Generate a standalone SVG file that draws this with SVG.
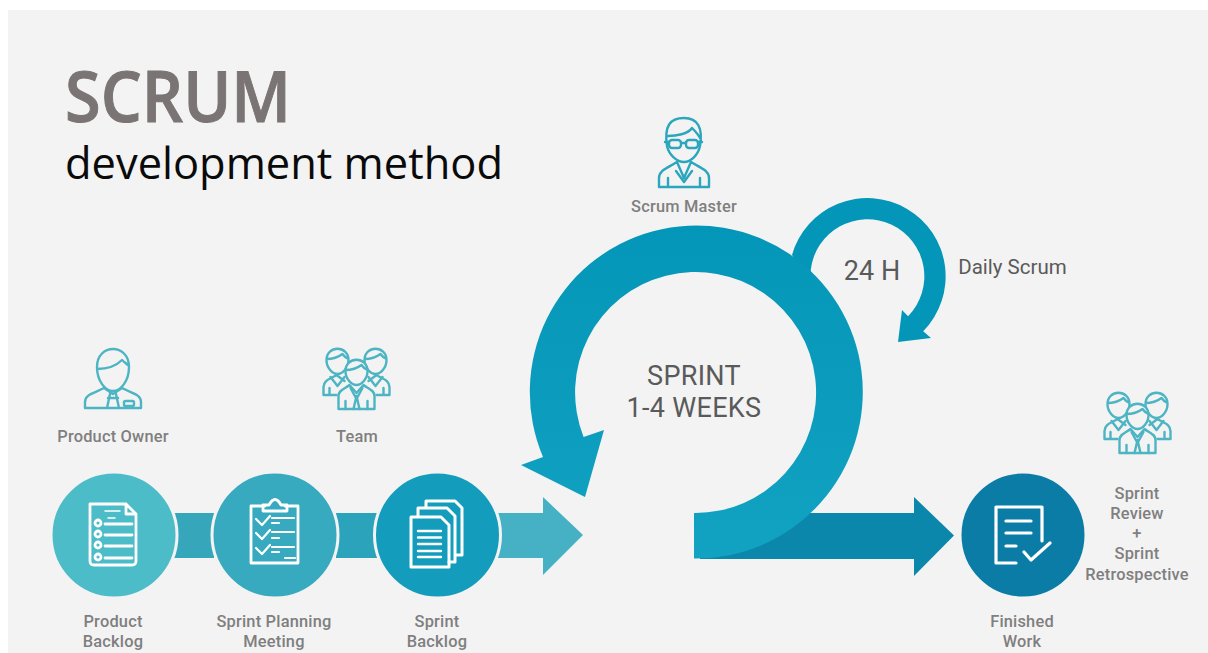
<svg xmlns="http://www.w3.org/2000/svg" width="1208" height="653" viewBox="0 0 1208 653">
<style>
.l{font-family:Roboto,"Liberation Sans",sans-serif;font-size:16.4px;letter-spacing:.2px;fill:#7f7f7f;text-anchor:middle;font-weight:500}
.c{font-family:Roboto,"Liberation Sans",sans-serif;fill:#5a5a5a;text-anchor:middle}
.i{fill:none;stroke:#fff;stroke-width:2.8;stroke-linecap:round;stroke-linejoin:round}
.p{fill:none;stroke:#4db4c3;stroke-width:2.4;stroke-linecap:round;stroke-linejoin:round}
.g{stroke:#f3f3f3;stroke-width:3}
</style>
<defs>
<linearGradient id="ring" x1="0" y1="0" x2="0" y2="1"><stop offset="0" stop-color="#0496b8"/><stop offset="1" stop-color="#12a2c2"/></linearGradient>
<g id="person"><path fill="#f3f3f3" d="M-11-3C-11-18 11-18 11-3C11 5 5 11 0 11C-5 11-11 5-11-3ZM-11-4C-6-4 1-6 5-9C7-6 9-5 11-4"/></g>
<g id="team" class="p">
<path d="M-33 32V24C-33 17-26 16-20 12L-12 18M33 32V24C33 17 26 16 20 12L12 18M-33 32H-20M33 32H20M-27 25V32M27 25V32"/>
<path d="M-26 14L-19 23L-12 14M26 14L19 23L12 14"/>
<use href="#person" transform="translate(-19,0)"/><use href="#person" transform="translate(19,0)"/>
<path fill="#f3f3f3" d="M-18 46V33C-18 27-12 26-7 22L0 30L7 22C12 26 18 27 18 33V46Z"/>
<path d="M-11 38V46M11 38V46M-3 46L0 33L3 46M-6 25L0 36L6 25"/>
<use href="#person" transform="translate(0,11)"/>
</g>
</defs>
<rect x="0" y="0" width="1208" height="653" fill="#fff"/>
<rect x="8" y="10" width="1200" height="643" fill="#f3f3f3"/>
<g id="connectors">
<rect x="174" y="513" width="40" height="45" fill="#36a7bb"/>
<rect x="336" y="513" width="42" height="45" fill="#2ba3bb"/>
<path d="M498 513H543V497L583 535L543 575V558H498Z" fill="#46b1c5"/>
<path d="M700 513H914V497L954 535.500L914 576V559H700Z" fill="#0b87ac"/>
<path d="M815 290L810.700 270.100A57 57 0 1 1 908.100 316.200L902 310L898 342L931 338L923.200 331.200A78.300 78.300 0 1 0 792 255Z" fill="#0496b8"/>
<path d="M694 513A120.500 120.500 0 1 0 583.600 437L604 430L585 497L521 465L543 457A166.500 166.500 0 1 1 694 558.500Z" fill="url(#ring)"/>
</g>
<g id="title">
<text x="65" y="122" font-family="'Open Sans',sans-serif" font-weight="600" font-size="70" fill="#7a7474" stroke="#7a7474" stroke-width="1" textLength="226" lengthAdjust="spacingAndGlyphs">SCRUM</text>
<text x="65" y="179" font-family="'Open Sans',sans-serif" font-size="44" fill="#0a0a0a" textLength="438" lengthAdjust="spacingAndGlyphs">development method</text>
</g>
<g id="product-owner">
<g class="p">
<path d="M97 367C97 343 129 343 129 367C129 382 120 391 113 391C106 391 97 382 97 367ZM97 369C106 369 116 366 122 360C124 362 127 364 129 366"/>
<path d="M85 408V402C85 394 95 393 104 388L113 394L122 388C131 393 141 394 141 402V408ZM110 394L107 408M116 394L119 408M108 398H118"/>
<rect x="124" y="401" width="10" height="5" rx="1.500"/>
</g>
<text class="l" x="113" y="441.500">Product Owner</text>
</g>
<g id="team-1"><use href="#team" x="356.500" y="363"/><text class="l" x="357" y="441.500">Team</text></g>
<g id="scrum-master">
<g class="p" style="stroke:#2ba6bd">
<path d="M667 146C664 126 670 118 684 118C698 118 703 128 700 146C698 155 691 162 684 162C677 162 669 155 667 146ZM668 136C676 136 688 134 692 128C695 131 698 134 700 138"/>
<rect x="669" y="140" width="12" height="8" rx="3"/><rect x="686" y="140" width="12" height="8" rx="3"/><path d="M681 143H686M665 142H669M698 142H702"/>
<path d="M659 187V178C659 170 668 168 677 162L684 178L691 162C700 168 709 170 709 178V187ZM676 171L684 182L692 171M668 178V187M700 178V187"/>
</g>
<text class="l" x="684" y="211.500">Scrum Master</text>
</g>
<g id="daily-scrum"><text class="c" x="1012.500" y="274" font-size="20.500">Daily Scrum</text><text class="c" x="872" y="279.500" font-size="27">24 H</text></g>
<g id="sprint"><text class="c" x="694" y="385" font-size="27" letter-spacing=".3">SPRINT</text><text class="c" x="694" y="417" font-size="27" letter-spacing=".3">1-4 WEEKS</text></g>
<g id="product-backlog">
<circle class="g" cx="114" cy="535" r="63" fill="#4cbcc9"/>
<g class="i"><path d="M90 504H126L136 514V561Q136 565 132 565H94Q90 565 90 561ZM126 504V514H136"/>
<path d="M105 511H120M108 518H115" stroke-width="1.500"/><path d="M105 524H132M105 535H132M105 546H132M105 558H132"/><circle cx="98" cy="523" r="3"/><circle cx="98" cy="534" r="3"/><circle cx="98" cy="545" r="3"/><circle cx="98" cy="557" r="3"/></g>
<text class="l" x="113" y="626.500">Product</text><text class="l" x="113" y="646.500">Backlog</text>
</g>
<g id="sprint-planning">
<circle class="g" cx="275" cy="535" r="63" fill="#38aabf"/>
<g class="i"><path d="M265 506H251V563H298V506H285M263 511V505H269Q275 494 281 505H287V511Z"/>
<path d="M256 519L262 525L270 516M256 533L262 539L270 530M256 548L262 554L270 545M272 518H294M272 532H294M272 547H294M272 523H279M272 538H279M272 552H279M285 558H295" stroke-width="2.200"/></g>
<text class="l" x="274" y="626.500">Sprint Planning</text><text class="l" x="274" y="646.500">Meeting</text>
</g>
<g id="sprint-backlog">
<circle class="g" cx="437.500" cy="535" r="63" fill="#139cbb"/>
<g class="i" style="stroke-width:3"><path d="M426 508V501H455L462 508V555H456M418 516V508H447L455 516V562H449"/><path d="M411 517H441L449 525V567H411Z"/><path d="M418 531H441M418 537.500H441M418 544H441M418 551H441M418 557H441" stroke-width="2.400"/></g>
<text class="l" x="437" y="626.500">Sprint</text><text class="l" x="437" y="646.500">Backlog</text>
</g>
<g id="finished-work">
<circle class="g" cx="1023" cy="535" r="63" fill="#0a7ca6"/>
<g class="i" style="stroke-width:3.200"><path d="M1042 541V507H996V563H1016M1006 521H1031M1006 533H1031M1006 546H1016M1024 552L1031 560L1050 543"/></g>
<text class="l" x="1022" y="626.500">Finished</text><text class="l" x="1022" y="646.500">Work</text>
</g>
<g id="team-2"><use href="#team" x="1137.500" y="407"/></g>
<g id="sprint-review"><text class="l" x="1137" y="499">Sprint</text><text class="l" x="1137" y="519">Review</text><text class="l" x="1137" y="539">+</text><text class="l" x="1137" y="559">Sprint</text><text class="l" x="1137" y="579.500">Retrospective</text></g>
</svg>
